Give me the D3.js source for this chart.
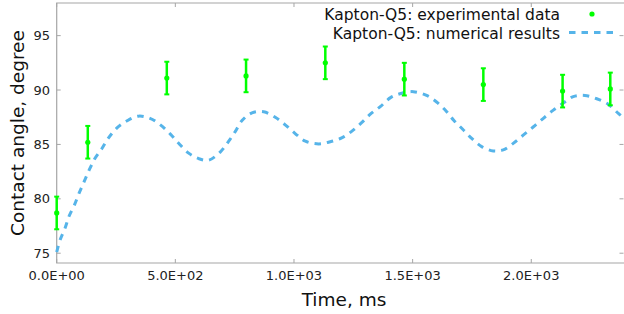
<!DOCTYPE html>
<html>
<head>
<meta charset="utf-8">
<script src="https://cdn.jsdelivr.net/npm/d3@7"></script>
<style>
  body { margin: 0; background: #fff; }
  svg { display: block; font-family: "DejaVu Sans", sans-serif; }
</style>
</head>
<body>
<svg width="624" height="314"></svg>
<script>
// experimental data (time in ms, angle in degree, error +-)
var expTime = [0, 131, 464, 798, 1132, 1465, 1798, 2132, 2333];
var expAngle = [78.7, 85.2, 91.1, 91.3, 92.5, 91.0, 90.5, 89.9, 90.1];
var expErr = [1.5, 1.5, 1.5, 1.5, 1.5, 1.5, 1.5, 1.5, 1.5];

// numerical results
var simTime = [0, 14, 35, 52, 74, 94, 116, 137, 161, 190, 217, 253, 295, 344, 393, 437, 479, 514,
  556, 598, 640, 689, 725, 753, 781, 823, 872, 921, 963, 1005, 1048, 1104, 1153, 1201, 1243, 1285,
  1323, 1365, 1407, 1454, 1503, 1559, 1601, 1640, 1674, 1711, 1749, 1791, 1840, 1882, 1924, 1966,
  2008, 2051, 2093, 2135, 2177, 2226, 2276, 2324, 2367, 2392];
var simAngle = [75.1, 76.2, 77.3, 78.4, 79.4, 80.5, 81.6, 82.65, 83.7, 84.6, 85.55, 86.5, 87.15,
  87.6, 87.4, 86.8, 85.95, 85.1, 84.2, 83.7, 83.55, 84.3, 85.3, 86.2, 87.2, 87.9, 88.0, 87.5, 86.8,
  86.0, 85.3, 85.05, 85.25, 85.6, 86.2, 87.0, 87.8, 88.5, 89.3, 89.7, 89.85, 89.5, 88.9, 88.1, 87.2,
  86.4, 85.55, 84.8, 84.4, 84.5, 85.1, 85.85, 86.6, 87.4, 88.15, 88.8, 89.4, 89.5, 89.2, 88.7,
  87.85, 87.4];

var xTicks = [0, 500, 1000, 1500, 2000];
var yTicks = [75, 80, 85, 90, 95];
var legendLabels = ["Kapton-Q5: experimental data", "Kapton-Q5: numerical results"];

var svg = d3.select("svg");
var pLeft = 56.7, pRight = 625, pTop = 3, pBottom = 263;

var x = d3.scaleLinear().domain([0, 2395]).range([pLeft, pRight]);
var y = d3.scaleLinear().domain([74.1, 98.0]).range([pBottom, pTop]);

var frame = "#a6a6a6";
var green = "#00ff00";
var blue = "#56b4e9";

// frame
svg.append("path")
  .attr("d", "M" + pRight + "," + pTop + "H" + pLeft + "V" + pBottom + "H" + pRight)
  .attr("fill", "none")
  .attr("stroke", frame)
  .attr("stroke-width", 1.2);

// ticks, mirrored and pointing inward
var tk = 4;
xTicks.forEach(function(t) {
  svg.append("line").attr("x1", x(t)).attr("x2", x(t)).attr("y1", pBottom).attr("y2", pBottom - tk)
    .attr("stroke", frame);
  svg.append("line").attr("x1", x(t)).attr("x2", x(t)).attr("y1", pTop).attr("y2", pTop + tk)
    .attr("stroke", frame);
  svg.append("text").attr("x", x(t)).attr("y", 280)
    .attr("text-anchor", "middle").attr("font-size", 13).attr("fill", "#222")
    .text(d3.format(".1e")(t).replace("e", "E").replace(/E([+-])(\d)$/, "E$10$2"));
});
yTicks.forEach(function(v) {
  svg.append("line").attr("x1", pLeft).attr("x2", pLeft + tk).attr("y1", y(v)).attr("y2", y(v))
    .attr("stroke", frame);
  svg.append("line").attr("x1", 623.5).attr("x2", 623.5 - tk).attr("y1", y(v)).attr("y2", y(v))
    .attr("stroke", frame);
  svg.append("text").attr("x", 50).attr("y", y(v) + 4.5)
    .attr("text-anchor", "end").attr("font-size", 13).attr("fill", "#222")
    .text(v);
});

// axis titles
svg.append("text")
  .attr("transform", "translate(23.5,133) rotate(-90)")
  .attr("text-anchor", "middle").attr("font-size", 18.5).attr("fill", "#111")
  .text("Contact angle, degree");
svg.append("text")
  .attr("x", 344).attr("y", 306)
  .attr("text-anchor", "middle").attr("font-size", 18.5).attr("fill", "#111")
  .text("Time, ms");

// numerical curve
var sim = simTime.map(function(t, i) { return { t: t, v: simAngle[i] }; });
var line = d3.line()
  .x(function(d) { return x(d.t); })
  .y(function(d) { return y(d.v); })
  .curve(d3.curveCatmullRom);

svg.append("path")
  .datum(sim)
  .attr("d", line)
  .attr("fill", "none")
  .attr("stroke", blue)
  .attr("stroke-width", 3)
  .attr("stroke-dasharray", "6.5,6");

// experimental points with error bars
var exp = expTime.map(function(t, i) { return { t: t, v: expAngle[i], e: expErr[i] }; });
var pts = svg.append("g").selectAll("g").data(exp).enter().append("g");
pts.append("line")
  .attr("x1", function(d) { return x(d.t); })
  .attr("x2", function(d) { return x(d.t); })
  .attr("y1", function(d) { return y(d.v - d.e); })
  .attr("y2", function(d) { return y(d.v + d.e); })
  .attr("stroke", green).attr("stroke-width", 2.5);
[-1, 1].forEach(function(s) {
  pts.append("line")
    .attr("x1", function(d) { return x(d.t) - 2.5; })
    .attr("x2", function(d) { return x(d.t) + 2.5; })
    .attr("y1", function(d) { return y(d.v + s * d.e); })
    .attr("y2", function(d) { return y(d.v + s * d.e); })
    .attr("stroke", green).attr("stroke-width", 2);
});
pts.append("circle")
  .attr("cx", function(d) { return x(d.t); })
  .attr("cy", function(d) { return y(d.v); })
  .attr("r", 2.6)
  .attr("fill", green);

// legend
var lg = svg.append("g");
lg.append("text").attr("x", 560).attr("y", 19.5).attr("text-anchor", "end")
  .attr("font-size", 15.5).attr("fill", "#111").text(legendLabels[0]);
lg.append("circle").attr("cx", 592).attr("cy", 14).attr("r", 2.6).attr("fill", green);
lg.append("text").attr("x", 560).attr("y", 38.5).attr("text-anchor", "end")
  .attr("font-size", 15.5).attr("fill", "#111").text(legendLabels[1]);
lg.append("line").attr("x1", 569).attr("x2", 614).attr("y1", 32.5).attr("y2", 32.5)
  .attr("stroke", blue).attr("stroke-width", 3).attr("stroke-dasharray", "6.5,6");
</script>
</body>
</html>
